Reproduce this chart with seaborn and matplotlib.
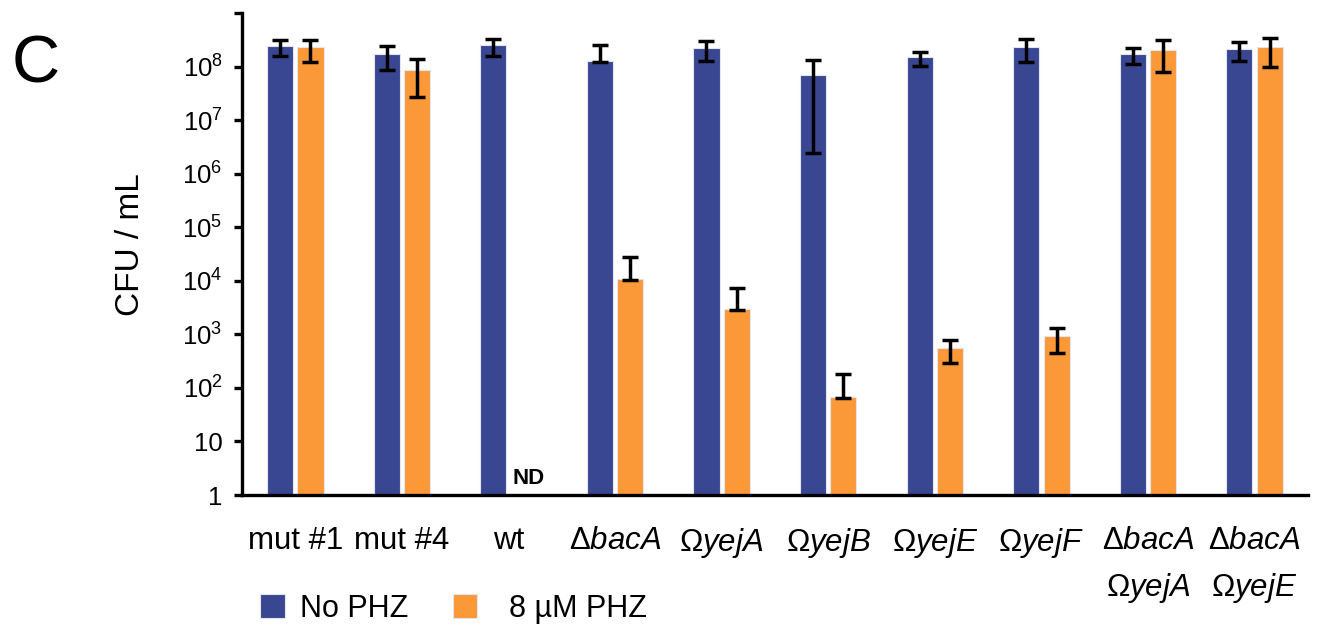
import numpy as np
import pandas as pd
import matplotlib
matplotlib.use("Agg")
import matplotlib.pyplot as plt
import seaborn as sns

sns.set_style("ticks")
plt.rcParams['font.family'] = ['Liberation Sans', 'DejaVu Sans']
plt.rcParams['mathtext.fontset'] = 'custom'
plt.rcParams['mathtext.rm'] = 'Liberation Sans'
plt.rcParams['mathtext.it'] = 'Liberation Sans:italic'
for key in ['text.color', 'axes.labelcolor', 'xtick.color', 'ytick.color', 'axes.edgecolor']:
    plt.rcParams[key] = 'black'

# strains on the x axis
strains = ["mut #1", "mut #4", "wt",
           "Δ$\\mathit{bacA}$", "Ω$\\mathit{yejA}$", "Ω$\\mathit{yejB}$",
           "Ω$\\mathit{yejE}$", "Ω$\\mathit{yejF}$",
           "Δ$\\mathit{bacA}$\nΩ$\\mathit{yejA}$",
           "Δ$\\mathit{bacA}$\nΩ$\\mathit{yejE}$"]

# CFU / mL, no phenazine
no_phz = [2.45e8, 1.74e8, 2.5e8, 1.26e8, 2.24e8, 7.1e7, 1.48e8, 2.29e8, 1.74e8, 2.14e8]
no_phz_hi = [3.16e8, 2.45e8, 3.31e8, 2.57e8, 3.02e8, 1.35e8, 1.86e8, 3.24e8, 2.19e8, 2.82e8]
no_phz_lo = [1.55e8, 8.7e7, 1.55e8, 1.23e8, 1.29e8, 2.4e6, 1.02e8, 1.2e8, 1.1e8, 1.29e8]

# CFU / mL, 8 uM phenazine (wt not detected)
phz = [2.29e8, 8.5e7, np.nan, 1.1e4, 3.0e3, 69, 550, 930, 2.0e8, 2.29e8]
phz_hi = [3.16e8, 1.38e8, np.nan, 2.75e4, 7.4e3, 182, 794, 1320, 3.09e8, 3.47e8]
phz_lo = [1.23e8, 2.7e7, np.nan, 1.05e4, 2.9e3, 66, 295, 447, 7.8e7, 9.8e7]

conditions = ["No PHZ", "  8 µM PHZ"]
colors = ["#394793", "#FB9838"]

df = pd.DataFrame({
    "strain": strains * 2,
    "cond": [conditions[0]] * len(strains) + [conditions[1]] * len(strains),
    "cfu": no_phz + phz,
})

fig = plt.figure(figsize=(13.34, 6.27), dpi=100)
ax = fig.add_axes([0.1814, 0.2105, 0.799, 0.7688])
ax.set_yscale("log")

sns.barplot(data=df, x="strain", y="cfu", hue="cond", palette=colors,
            order=strains, hue_order=conditions, errorbar=None,
            width=0.57, gap=0.14, edgecolor="#e4e4f0", linewidth=0.8,
            saturation=1, ax=ax)

handles, labels = ax.get_legend_handles_labels()
ax.get_legend().remove()

# error bars on top of each bar
errs = {0: (no_phz, no_phz_lo, no_phz_hi), 1: (phz, phz_lo, phz_hi)}
orange_off = 0.14
for p in ax.patches:
    w = p.get_width()
    if w < 0.05 or not np.isfinite(p.get_height()):
        continue
    cx = p.get_x() + w / 2
    i = int(round(cx))
    k = 0 if cx < i else 1
    if k == 1:
        orange_off = cx - i
    v, lo, hi = errs[k]
    if np.isnan(v[i]):
        continue
    ax.errorbar(cx, v[i], yerr=[[v[i] - lo[i]], [hi[i] - v[i]]], fmt="none",
                ecolor="black", elinewidth=2.5, capsize=5.5, capthick=2.5, zorder=5)

# not detected label
wt_i = strains.index("wt")
ax.text(wt_i + orange_off + 0.05, 1.3, "ND", ha="center", va="bottom",
        fontsize=16, fontweight="bold")

ax.set_ylim(1, 1e9)
ax.set_xlim(-0.5, len(strains) - 0.5)
yt = [1, 10, 1e2, 1e3, 1e4, 1e5, 1e6, 1e7, 1e8, 1e9]
ax.set_yticks(yt)
ax.set_yticklabels(["1", "10"] + ["$10^{%d}$" % n for n in range(2, 9)] + [""])
ax.yaxis.set_minor_locator(matplotlib.ticker.NullLocator())
ax.tick_params(axis="y", labelsize=18.5, length=6, width=2.4, pad=8)
ax.tick_params(axis="x", labelsize=22.5, length=0, pad=22)
for t in ax.get_xticklabels():
    t.set_linespacing(1.6)

ax.set_xlabel("")
ax.set_ylabel("CFU / mL", fontsize=24)
ax.yaxis.set_label_coords(-0.09, 0.52)

sns.despine(ax=ax)
for s in ["left", "bottom"]:
    ax.spines[s].set_linewidth(2.4)

fig.legend(handles, labels, loc="center left", bbox_to_anchor=(0.195, 0.0287),
           ncol=2, frameon=False, fontsize=22, handlelength=0.8, handleheight=0.83,
           handletextpad=0.5, columnspacing=1.45, borderpad=0, borderaxespad=0)

fig.text(0.009, 0.868, "C", fontsize=48, va="baseline")

fig.savefig("out.png", dpi=100)
